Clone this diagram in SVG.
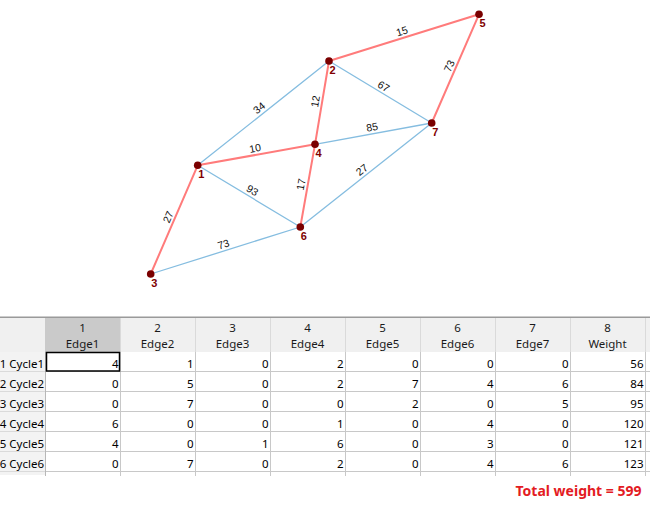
<svg xmlns="http://www.w3.org/2000/svg" width="650" height="511" viewBox="0 0 650 511">
<style>
.er{stroke:#ff7b7b;stroke-width:2;fill:none;stroke-linecap:round}
.eb{stroke:#85bde0;stroke-width:1.3;fill:none;stroke-linecap:round}
.el{font-family:"Liberation Sans",Arial,sans-serif;font-size:10.5px;fill:#111;text-anchor:middle}
.nd{fill:#7a0000}
.nl{font-family:"Liberation Sans",Arial,sans-serif;font-size:11px;font-weight:bold;fill:#800000;text-anchor:middle}
.th{font-family:"Noto Sans","Liberation Sans",sans-serif;font-size:11.5px;fill:#1a1a1a;text-anchor:middle}
.td{font-family:"Noto Sans","Liberation Sans",sans-serif;font-size:11.5px;fill:#000;text-anchor:end}
.rh{font-family:"Noto Sans","Liberation Sans",sans-serif;font-size:11.5px;fill:#000;text-anchor:end}
.gl{stroke:#c8c8c8;stroke-width:1}
.gh{stroke:#dadada;stroke-width:1}
.tot{font-family:"Noto Sans","Liberation Sans",sans-serif;font-size:14px;font-weight:bold;fill:#e31b23;text-anchor:end}
</style>
<rect width="650" height="511" fill="#ffffff"/>

<g id="connectors">
<line class="eb" x1="197.7" y1="165.3" x2="329" y2="61"/>
<line class="eb" x1="329" y1="61" x2="431.7" y2="123"/>
<line class="eb" x1="315" y1="144.3" x2="431.7" y2="123"/>
<line class="eb" x1="197.7" y1="165.3" x2="300.3" y2="227"/>
<line class="eb" x1="300.3" y1="227" x2="431.7" y2="123"/>
<line class="eb" x1="150.7" y1="274" x2="300.3" y2="227"/>
<line class="er" x1="329" y1="61" x2="479" y2="14.3"/>
<line class="er" x1="431.7" y1="123" x2="479" y2="14.3"/>
<line class="er" x1="315" y1="144.3" x2="329" y2="61"/>
<line class="er" x1="197.7" y1="165.3" x2="315" y2="144.3"/>
<line class="er" x1="300.3" y1="227" x2="315" y2="144.3"/>
<line class="er" x1="150.7" y1="274" x2="197.7" y2="165.3"/>
<text class="el" transform="translate(404,37.6) rotate(-17.3)" y="-3">15</text>
<text class="el" transform="translate(455.4,68.6) rotate(-66.5)" y="-3">73</text>
<text class="el" transform="translate(322,102.6) rotate(-80.5)" y="-3">12</text>
<text class="el" transform="translate(256.4,154.8) rotate(-10.2)" y="-3">10</text>
<text class="el" transform="translate(307.6,185.6) rotate(-79.9)" y="-3">17</text>
<text class="el" transform="translate(174.2,219.6) rotate(-66.6)" y="-3">27</text>
<text class="el" transform="translate(263.3,113.1) rotate(-38.5)" y="-3">34</text>
<text class="el" transform="translate(380.3,92) rotate(31.1)" y="-3">67</text>
<text class="el" transform="translate(373.3,133.6) rotate(-10.3)" y="-3">85</text>
<text class="el" transform="translate(249,196.1) rotate(31)" y="-3">93</text>
<text class="el" transform="translate(366,175) rotate(-38.4)" y="-3">27</text>
<text class="el" transform="translate(225.5,250.5) rotate(-17.4)" y="-3">73</text>
</g>

<g id="node1"><circle class="nd" cx="197.7" cy="165.3" r="3.8"/><text class="nl" x="201.2" y="178.3">1</text></g>
<g id="node2"><circle class="nd" cx="329" cy="61" r="3.8"/><text class="nl" x="332.5" y="74">2</text></g>
<g id="node3"><circle class="nd" cx="150.7" cy="274" r="3.8"/><text class="nl" x="154.2" y="287">3</text></g>
<g id="node4"><circle class="nd" cx="315" cy="144.3" r="3.8"/><text class="nl" x="318.5" y="157.3">4</text></g>
<g id="node5"><circle class="nd" cx="479" cy="14.3" r="3.8"/><text class="nl" x="482.5" y="27.3">5</text></g>
<g id="node6"><circle class="nd" cx="300.3" cy="227" r="3.8"/><text class="nl" x="303.8" y="240">6</text></g>
<g id="node7"><circle class="nd" cx="431.7" cy="123" r="3.8"/><text class="nl" x="435.2" y="136">7</text></g>

<g id="table">
<rect x="0" y="318" width="650" height="34" fill="#f0f0f0"/>
<rect x="45" y="318" width="75" height="34" fill="#cacaca"/>
<rect x="0" y="352" width="45" height="123" fill="#f3f3f3"/>
<line x1="0" y1="317.2" x2="650" y2="317.2" stroke="#9a9a9a" stroke-width="1.6"/>
<g class="gh">
<line x1="120.5" y1="318" x2="120.5" y2="352"/>
<line x1="195.5" y1="318" x2="195.5" y2="352"/>
<line x1="270.5" y1="318" x2="270.5" y2="352"/>
<line x1="345.5" y1="318" x2="345.5" y2="352"/>
<line x1="420.5" y1="318" x2="420.5" y2="352"/>
<line x1="495.5" y1="318" x2="495.5" y2="352"/>
<line x1="570.5" y1="318" x2="570.5" y2="352"/>
<line x1="645.5" y1="318" x2="645.5" y2="352"/>
<line x1="0" y1="371.5" x2="45" y2="371.5"/>
<line x1="0" y1="391.5" x2="45" y2="391.5"/>
<line x1="0" y1="411.5" x2="45" y2="411.5"/>
<line x1="0" y1="431.5" x2="45" y2="431.5"/>
<line x1="0" y1="451.5" x2="45" y2="451.5"/>
<line x1="0" y1="471.5" x2="45" y2="471.5"/>
</g>
<g class="gl">
<line x1="45" y1="371.5" x2="650" y2="371.5"/>
<line x1="45" y1="391.5" x2="650" y2="391.5"/>
<line x1="45" y1="411.5" x2="650" y2="411.5"/>
<line x1="45" y1="431.5" x2="650" y2="431.5"/>
<line x1="45" y1="451.5" x2="650" y2="451.5"/>
<line x1="45" y1="471.5" x2="650" y2="471.5"/>
<line x1="120.5" y1="352" x2="120.5" y2="476"/>
<line x1="195.5" y1="352" x2="195.5" y2="476"/>
<line x1="270.5" y1="352" x2="270.5" y2="476"/>
<line x1="345.5" y1="352" x2="345.5" y2="476"/>
<line x1="420.5" y1="352" x2="420.5" y2="476"/>
<line x1="495.5" y1="352" x2="495.5" y2="476"/>
<line x1="570.5" y1="352" x2="570.5" y2="476"/>
<line x1="645.5" y1="352" x2="645.5" y2="476"/>
</g>
<line x1="45.5" y1="352" x2="45.5" y2="476" stroke="#b8b8b8" stroke-width="1"/>

<text class="th" x="82.5" y="331.5">1</text><text class="th" x="82.5" y="347.5">Edge1</text>
<text class="th" x="157.5" y="331.5">2</text><text class="th" x="157.5" y="347.5">Edge2</text>
<text class="th" x="232.5" y="331.5">3</text><text class="th" x="232.5" y="347.5">Edge3</text>
<text class="th" x="307.5" y="331.5">4</text><text class="th" x="307.5" y="347.5">Edge4</text>
<text class="th" x="382.5" y="331.5">5</text><text class="th" x="382.5" y="347.5">Edge5</text>
<text class="th" x="457.5" y="331.5">6</text><text class="th" x="457.5" y="347.5">Edge6</text>
<text class="th" x="532.5" y="331.5">7</text><text class="th" x="532.5" y="347.5">Edge7</text>
<text class="th" x="607.5" y="331.5">8</text><text class="th" x="607.5" y="347.5">Weight</text>

<text class="rh" x="44" y="367.5">1 Cycle1</text>
<text class="rh" x="44" y="387.5">2 Cycle2</text>
<text class="rh" x="44" y="407.5">3 Cycle3</text>
<text class="rh" x="44" y="427.5">4 Cycle4</text>
<text class="rh" x="44" y="447.5">5 Cycle5</text>
<text class="rh" x="44" y="467.5">6 Cycle6</text>

<g>
<text class="td" x="118.5" y="367.5">4</text><text class="td" x="193.5" y="367.5">1</text><text class="td" x="268.5" y="367.5">0</text><text class="td" x="343.5" y="367.5">2</text><text class="td" x="418.5" y="367.5">0</text><text class="td" x="493.5" y="367.5">0</text><text class="td" x="568.5" y="367.5">0</text><text class="td" x="643.5" y="367.5">56</text>
<text class="td" x="118.5" y="387.5">0</text><text class="td" x="193.5" y="387.5">5</text><text class="td" x="268.5" y="387.5">0</text><text class="td" x="343.5" y="387.5">2</text><text class="td" x="418.5" y="387.5">7</text><text class="td" x="493.5" y="387.5">4</text><text class="td" x="568.5" y="387.5">6</text><text class="td" x="643.5" y="387.5">84</text>
<text class="td" x="118.5" y="407.5">0</text><text class="td" x="193.5" y="407.5">7</text><text class="td" x="268.5" y="407.5">0</text><text class="td" x="343.5" y="407.5">0</text><text class="td" x="418.5" y="407.5">2</text><text class="td" x="493.5" y="407.5">0</text><text class="td" x="568.5" y="407.5">5</text><text class="td" x="643.5" y="407.5">95</text>
<text class="td" x="118.5" y="427.5">6</text><text class="td" x="193.5" y="427.5">0</text><text class="td" x="268.5" y="427.5">0</text><text class="td" x="343.5" y="427.5">1</text><text class="td" x="418.5" y="427.5">0</text><text class="td" x="493.5" y="427.5">4</text><text class="td" x="568.5" y="427.5">0</text><text class="td" x="643.5" y="427.5">120</text>
<text class="td" x="118.5" y="447.5">4</text><text class="td" x="193.5" y="447.5">0</text><text class="td" x="268.5" y="447.5">1</text><text class="td" x="343.5" y="447.5">6</text><text class="td" x="418.5" y="447.5">0</text><text class="td" x="493.5" y="447.5">3</text><text class="td" x="568.5" y="447.5">0</text><text class="td" x="643.5" y="447.5">121</text>
<text class="td" x="118.5" y="467.5">0</text><text class="td" x="193.5" y="467.5">7</text><text class="td" x="268.5" y="467.5">0</text><text class="td" x="343.5" y="467.5">2</text><text class="td" x="418.5" y="467.5">0</text><text class="td" x="493.5" y="467.5">4</text><text class="td" x="568.5" y="467.5">6</text><text class="td" x="643.5" y="467.5">123</text>
</g>
<rect x="46.5" y="352.5" width="73" height="18.5" fill="none" stroke="#000" stroke-width="1.5"/>
<text class="tot" x="641.5" y="496">Total weight = 599</text>
</g>
</svg>
